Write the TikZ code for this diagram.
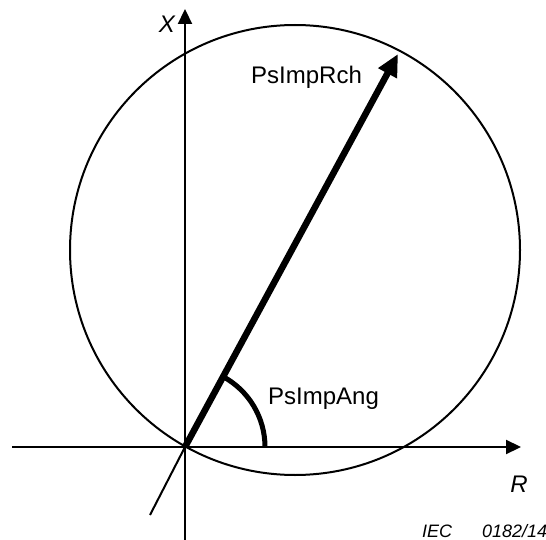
\documentclass[tikz,border=0pt]{standalone}
\usepackage{fontspec}
\setmainfont{Liberation Sans}
\usetikzlibrary{arrows.meta}
\begin{document}
\begin{tikzpicture}[x=1pt,y=-1pt,
  axis/.style={line width=2.2pt,-{Triangle[length=15pt,width=14pt]}},
  lbl/.style={font=\fontsize{24}{28}\selectfont,inner sep=0pt,anchor=base west},
  axlbl/.style={font=\fontsize{24}{28}\selectfont\itshape,inner sep=0pt}]
\useasboundingbox (0,0) rectangle (546,540);
\coordinate (O) at (185,447);
\coordinate (xbot) at (185,541);
\coordinate (xtop) at (185,9);
\coordinate (rleft) at (12,447);
\coordinate (rright) at (521,447);
\coordinate (C) at (295,250);
\coordinate (tip) at (398,54);
\coordinate (ext) at (150,515);
\coordinate (arcstart) at (265,447);
% axes
\draw[axis] (xbot) -- (xtop);
\draw[axis] (rleft) -- (rright);
% circle
\draw[line width=2pt] (C) circle[radius=225];
% thin extension
\draw[line width=2pt] (O) -- (ext);
% main arrow
\draw[line width=6.5pt,-{Triangle[length=22pt,width=20pt]}] (O) -- (tip);
% angle arc
\draw[line width=5pt] (arcstart) arc[start angle=0,end angle=-62,radius=80];
% labels
\node[axlbl] (xl) at (167,24) {X};
\node[axlbl] (rl) at (519,484) {R};
\node[lbl] (rch) at (251,84) {PsImpRch};
\node[lbl] (ang) at (268,404.5) {PsImpAng};
\node[font=\fontsize{18}{21}\selectfont\itshape,inner sep=0pt,anchor=base west] (iec) at (422,537) {IEC\hspace{30pt}0182/14};
\end{tikzpicture}
\end{document}
